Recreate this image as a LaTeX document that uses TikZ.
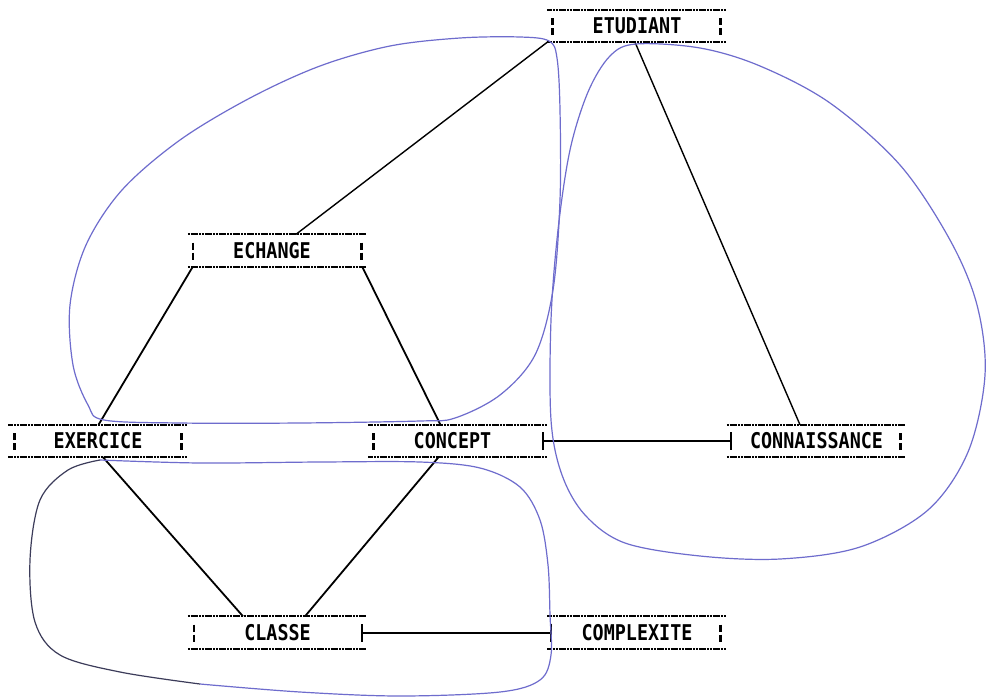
\documentclass[tikz,border=0pt]{standalone}
\usepackage{fontspec}
\usepackage{graphicx}
\newfontfamily\entfont{DejaVu Sans Mono}
\usetikzlibrary{arrows.meta,calc}

\definecolor{pen}{RGB}{110,108,205}
\definecolor{darkpen}{RGB}{60,60,90}

% entity label: leading padding (in monospace characters) then the name
\newcommand\ename[2]{\hphantom{#1}\raisebox{-2pt}{\scalebox{1}[1.18]{#2}}}

\begin{document}
\begin{tikzpicture}[x=1pt,y=-1pt,
  ent/.style={minimum width=178pt, minimum height=32pt, inner xsep=12pt,
    inner ysep=0pt, text width=154pt, align=left,
    font=\entfont\bfseries\fontsize{18.4}{20}\selectfont},
  rule/.style={line width=2.2pt, dash pattern=on 2.2pt off 0.6pt},
  vbar/.style={line width=2.6pt},
  link/.style={line width=1.8pt},
  thinlink/.style={line width=1.4pt},
  barlink/.style={line width=2pt, {Bar[width=18pt,line width=2.2pt]}-{Bar[width=18pt,line width=2.2pt]}},
  loopline/.style={pen, line width=1.2pt},
  darkloop/.style={darkpen, line width=1.2pt}
]
\fill[white] (0,0) rectangle (987,699);
\useasboundingbox (0,0) rectangle (987,699);

% entities
\node[ent] (etu) at (636.5,26)  {\ename{xxx}{ETUDIANT}};
\node[ent] (ech) at (277,250.5) {\ename{xxx}{ECHANGE}};
\node[ent] (exe) at (97.5,441)  {\ename{xxx}{EXERCICE}};
\node[ent] (con) at (457.5,441) {\ename{xxx}{CONCEPT}};
\node[ent] (cnn) at (816,441)   {\ename{x}{CONNAISSANCE}};
\node[ent] (cla) at (277,632.5) {\ename{xxxx}{CLASSE}};
\node[ent] (cpx) at (636.5,632.5) {\ename{xx}{COMPLEXITE}};

% upper and lower rules of each entity
\foreach \n in {etu,ech,exe,con,cnn,cla,cpx}{
  \draw[rule] (\n.north west) -- (\n.north east);
  \draw[rule] (\n.south west) -- (\n.south east);
}

% broken side bars
\foreach \p/\s in {etu.west/5, etu.east/-5, ech.west/5, ech.east/-5,
                   exe.west/6, exe.east/-5, con.west/5, cnn.east/-5,
                   cla.west/6, cpx.east/-5}{
  \draw[vbar] ([xshift=\s pt]\p) ++(0,-8) -- ++(0,7) ++(0,3) -- ++(0,7);
}

% relationships
\draw[thinlink] ([xshift=-1.5pt]etu.south) -- ([xshift=-16pt]cnn.north);
\draw[thinlink] (etu.south west) -- ([xshift=19pt]ech.north);
\draw[link] ([xshift=5pt]ech.south west) -- ([xshift=1pt]exe.north);
\draw[link] ([xshift=-4pt]ech.south east) -- ([xshift=-17pt]con.north);
\draw[link] ([xshift=5.5pt]exe.south) -- ([xshift=-34pt]cla.north);
\draw[link] ([xshift=-19pt]con.south) -- ([xshift=28pt]cla.north);
\draw[barlink] ([xshift=-5pt]con.east) -- ([xshift=5pt]cnn.west);
\draw[barlink] ([xshift=-5pt]cla.east) -- ([xshift=5pt]cpx.west);

% hand-drawn groupings
\draw[loopline] plot[smooth cycle, tension=0.55] coordinates {
  (549,41) (520,37) (460,38) (390,46) (320,66) (250,98) (180,140) (122,190)
  (86,245) (70,305) (73,365) (88,405) (104,420) (180,423) (300,423) (420,421)
  (455,418) (500,395) (535,355) (553,290) (560,200) (560,110) (557,58)};
\draw[loopline] plot[smooth cycle, tension=0.55] coordinates {
  (636,44) (610,56) (588,92) (570,150) (558,230) (551,320) (551,420) (562,475)
  (585,515) (625,543) (700,556) (780,559) (860,547) (928,510) (968,452)
  (985,375) (977,305) (950,240) (900,165) (830,103) (760,66) (700,48)};
\draw[loopline] plot[smooth, tension=0.55] coordinates {
  (100,460) (200,463) (320,462) (420,462) (480,468) (520,487) (540,520)
  (548,565) (550,615) (551,655) (540,680) (500,692) (400,696) (300,692) (200,684)};
\draw[darkloop] plot[smooth, tension=0.55] coordinates {
  (200,684) (120,672) (60,655) (35,622) (30,560) (40,500) (68,470) (100,460)};
\end{tikzpicture}
\end{document}
